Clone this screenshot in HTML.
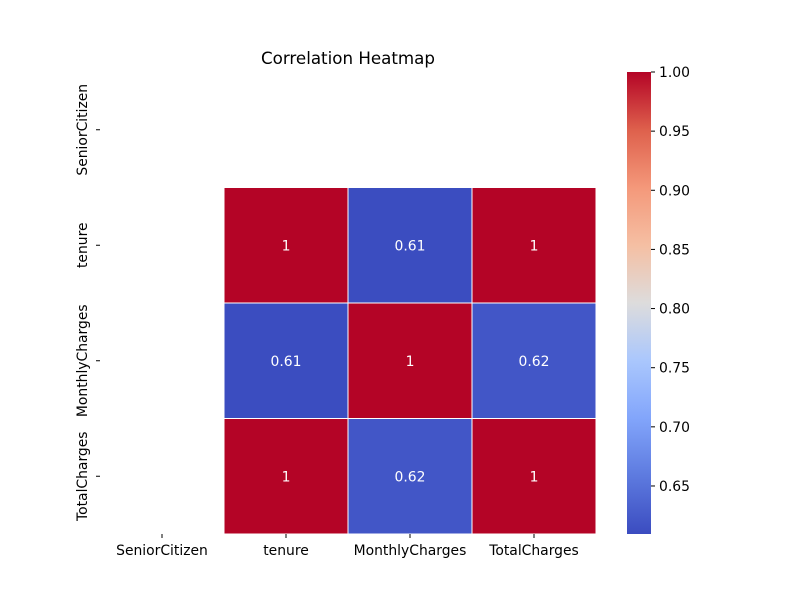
<!DOCTYPE html>
<html><head><meta charset="utf-8"><style>
body{margin:0;background:#fff}
svg text{font-family:"DejaVu Sans","Liberation Sans",sans-serif;}
</style></head><body>
<svg id="chart" width="800" height="600" viewBox="0 0 800 600">
<defs>
<linearGradient id="cmap" x1="0" y1="1" x2="0" y2="0">
<stop offset="0" stop-color="rgb(59,76,192)"/>
<stop offset="0.125" stop-color="rgb(93,122,223)"/>
<stop offset="0.25" stop-color="rgb(130,165,251)"/>
<stop offset="0.375" stop-color="rgb(170,199,253)"/>
<stop offset="0.5" stop-color="rgb(221,220,220)"/>
<stop offset="0.625" stop-color="rgb(245,191,163)"/>
<stop offset="0.75" stop-color="rgb(244,152,122)"/>
<stop offset="0.875" stop-color="rgb(222,96,76)"/>
<stop offset="1" stop-color="rgb(180,4,38)"/>
</linearGradient>
</defs>
<text x="348" y="64" text-anchor="middle" font-size="16.7">Correlation Heatmap</text>
<g id="cells"></g>
<g id="axes"></g>
<rect x="627" y="72" width="24" height="462" fill="url(#cmap)"/>
<g id="cbar"></g>
</svg>
<script>
const labels = ["SeniorCitizen","tenure","MonthlyCharges","TotalCharges"];
const matrix = [
 [null,null,null,null],
 [null,1,0.61,1],
 [null,0.61,1,0.62],
 [null,1,0.62,1]
];
const cbarTicks = [0.65,0.70,0.75,0.80,0.85,0.90,0.95,1.00];
const vmin = 0.6094, vmax = 1.0;
const x0=100,x1=596,y0=72,y1=534;
const cw=(x1-x0)/labels.length, ch=(y1-y0)/labels.length;
const stops=[[0,[59,76,192]],[0.125,[93,122,223]],[0.25,[130,165,251]],[0.375,[170,199,253]],[0.5,[221,220,220]],[0.625,[245,191,163]],[0.75,[244,152,122]],[0.875,[222,96,76]],[1,[180,4,38]]];
function color(v){let t=Math.max(0,Math.min(1,(v-vmin)/(vmax-vmin)));for(let i=1;i<stops.length;i++){if(t<=stops[i][0]){const a=stops[i-1],b=stops[i];const f=(t-a[0])/(b[0]-a[0]);return 'rgb('+a[1].map((c,k)=>Math.round(c+(b[1][k]-c)*f)).join(',')+')';}}return 'rgb(180,4,38)';}
const NS="http://www.w3.org/2000/svg";
function mk(tag,attrs,parent,txt){const e=document.createElementNS(NS,tag);for(const k in attrs)e.setAttribute(k,attrs[k]);if(txt!==undefined)e.textContent=txt;parent.appendChild(e);return e;}
const cells=document.getElementById('cells'), axes=document.getElementById('axes'), cbar=document.getElementById('cbar');
matrix.forEach((row,i)=>row.forEach((v,j)=>{
 if(v===null)return;
 const r=mk('rect',{x:x0+j*cw,y:y0+i*ch,width:cw,height:ch,fill:color(v),stroke:'#fff','stroke-width':1},cells);
 
 
 const t=mk('text',{x:x0+(j+0.5)*cw,y:y0+(i+0.5)*ch+5,'text-anchor':'middle','font-size':13.9,fill:'#fff'},cells,String(v));
 
 
}));
labels.forEach((l,k)=>{
 const cx=x0+(k+0.5)*cw, cy=y0+(k+0.5)*ch;
 mk('line',{x1:cx,x2:cx,y1:y1,y2:y1+4,stroke:'#000'},axes);
 const tx=mk('text',{x:cx,y:y1+21,'text-anchor':'middle','font-size':13.9},axes,l);
 
 
 mk('line',{x1:x0-4,x2:x0,y1:cy,y2:cy,stroke:'#000'},axes);
 const ty=mk('text',{x:0,y:0,'text-anchor':'middle','font-size':13.9,transform:'translate('+(x0-13)+','+cy+') rotate(-90)'},axes,l);
 
 
});
cbarTicks.forEach(v=>{
 const y=y1-(v-vmin)/(vmax-vmin)*(y1-y0);
 mk('line',{x1:651,x2:655,y1:y,y2:y,stroke:'#000'},cbar);
 const t=mk('text',{x:659,y:y+5,'font-size':13.9},cbar,v.toFixed(2));
 
 
});
</script>
</body></html>
